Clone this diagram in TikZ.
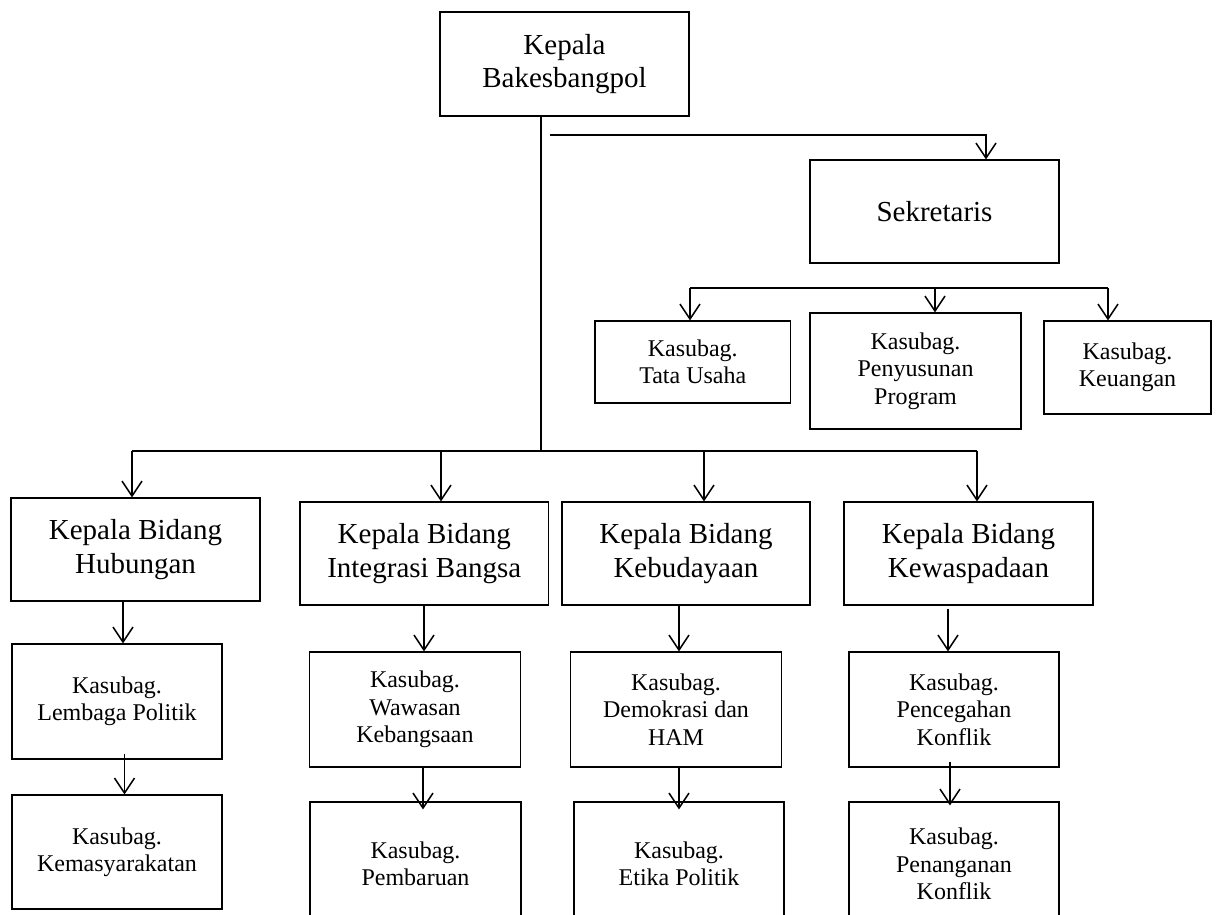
\documentclass[tikz,border=0pt]{standalone}
\usepackage{fontspec}
\setmainfont{Liberation Serif}
\usetikzlibrary{arrows.meta}
\tikzset{
  box/.style={draw=black, line width=1.2pt, align=center, inner sep=0pt},
  bigbox/.style={box, font=\fontsize{29}{33.5}\selectfont},
  smallbox/.style={box, font=\fontsize{24}{27.5}\selectfont},
  conn/.style={draw=black, line width=1.7pt},
  arr/.style={conn, -{Straight Barb[length=15pt,width=20pt,line width=1.5pt]}}
}
\begin{document}
\begin{tikzpicture}[x=1pt,y=-1pt]
\useasboundingbox (0,0) rectangle (1219,914);
\clip (0,0) rectangle (1219,914);
\fill[white] (0,0) rectangle (1219,914);

% top
\node[bigbox, minimum width=249pt, minimum height=104pt] (kb) at (564.5,64) {Kepala\\Bakesbangpol};
\node[bigbox, minimum width=249pt, minimum height=103pt] (sek) at (934.5,211.5) {Sekretaris};

% secretariat subdivisions
\node[smallbox, minimum width=195.5pt, minimum height=82pt] (tu) at (692.75,362) {Kasubag.\\Tata Usaha};
\node[smallbox, minimum width=211pt, minimum height=116pt] (pp) at (915.5,371) {Kasubag.\\Penyusunan\\Program};
\node[smallbox, minimum width=167pt, minimum height=93pt] (ku) at (1127.5,367.5) {Kasubag.\\Keuangan};

% heads of field
\node[bigbox, minimum width=249pt, minimum height=103pt] (hub) at (135.5,549.5) {Kepala Bidang\\Hubungan};
\node[bigbox, minimum width=248.6pt, minimum height=103pt] (int) at (424.3,553.5) {Kepala Bidang\\Integrasi Bangsa};
\node[bigbox, minimum width=248pt, minimum height=103pt] (keb) at (686,553.5) {Kepala Bidang\\Kebudayaan};
\node[bigbox, minimum width=249pt, minimum height=103pt] (kew) at (968.5,553.5) {Kepala Bidang\\Kewaspadaan};

% second level
\node[smallbox, minimum width=210pt, minimum height=115pt] (lp) at (117,701.5) {Kasubag.\\Lembaga Politik};
\node[smallbox, minimum width=211pt, minimum height=115pt] (ww) at (415,709.5) {Kasubag.\\Wawasan\\Kebangsaan};
\node[smallbox, minimum width=210.5pt, minimum height=115pt] (dh) at (676,709.5) {Kasubag.\\Demokrasi dan\\HAM};
\node[smallbox, minimum width=210pt, minimum height=115pt] (pk) at (954,709.5) {Kasubag.\\Pencegahan\\Konflik};

% third level
\node[smallbox, minimum width=210pt, minimum height=114pt] (kem) at (117,852) {Kasubag.\\Kemasyarakatan};
\node[smallbox, minimum width=211pt, minimum height=124pt] (pb) at (415.5,864) {Kasubag.\\Pembaruan};
\node[smallbox, minimum width=210pt, minimum height=124pt] (ep) at (679,864) {Kasubag.\\Etika Politik};
\node[smallbox, minimum width=210pt, minimum height=124pt] (pnk) at (954,864) {Kasubag.\\Penanganan\\Konflik};

% main trunk and bus
\coordinate (j0) at (541,451);
\coordinate (bL) at (132,451);
\coordinate (b2) at (441,451);
\coordinate (b3) at (704,451);
\coordinate (bR) at (977,451);
\draw[conn] (kb.south -| j0) -- (j0);
\draw[conn] (bL) -- (bR);
\draw[arr] (bL) -- (bL |- hub.north);
\draw[arr] (b2) -- (b2 |- int.north);
\draw[arr] (b3) -- (b3 |- keb.north);
\draw[arr] (bR) -- (bR |- kew.north);

% to secretary
\coordinate (s0) at (550,135);
\coordinate (s1) at (986,135);
\draw[arr] (s0) -- (s1) -- (s1 |- sek.north);

% secretary bus
\coordinate (t0) at (690,288);
\coordinate (t1) at (935,288);
\coordinate (t2) at (1108,288);
\draw[conn] (t0) -- (t2);
\draw[arr] (t0) -- (t0 |- tu.north);
\draw[arr] (t1) -- (t1 |- pp.north);
\draw[arr] (t2) -- (t2 |- ku.north);

% vertical chains
\draw[arr] (hub.south -| 123,0) -- (lp.north -| 123,0);
\draw[arr] (124.5,754) coordinate (c1) -- (c1 |- kem.north);
\draw[arr] (int.south -| 424,0) -- (ww.north -| 424,0);
\draw[arr] (ww.south -| 423,0) -- ([yshift=-8pt]pb.north -| 423,0);
\draw[arr] (keb.south -| 679,0) -- (dh.north -| 679,0);
\draw[arr] (dh.south -| 679,0) -- ([yshift=-8pt]ep.north -| 679,0);
\draw[arr] ([yshift=-3pt]kew.south -| 948,0) -- (pk.north -| 948,0);
\draw[arr] (950,762) coordinate (c2) -- ([yshift=-4pt]c2 |- pnk.north);
\end{tikzpicture}
\end{document}
